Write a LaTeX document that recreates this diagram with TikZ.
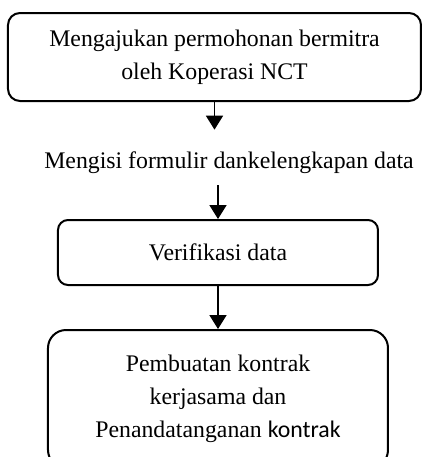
\documentclass[tikz,border=0pt]{standalone}
\usepackage{fontspec}
\setmainfont{Liberation Serif}
\newfontfamily\carlito{Carlito}
\usetikzlibrary{arrows.meta}

\begin{document}
\begin{tikzpicture}[
            x=0.5pt, y=-0.5pt,
            font=\fontsize{11.9}{16.4}\selectfont,
            kotak/.style={draw, line width=1pt, rounded corners=6pt, align=center},
            panah/.style={arrows=-{Triangle[width=8.5pt, length=7pt]}, line width=0.9pt}
        ]
        \useasboundingbox (0,0) rectangle (423,457);

        \node[kotak, minimum width=206.5pt, minimum height=44pt] (ajuan) at (214.5,57)
            {Mengajukan permohonan bermitra\\oleh Koperasi NCT};
        \node[inner xsep=0pt, inner ysep=5.5pt] (isi) at (229,163)
            {Mengisi formulir dankelengkapan data};
        \node[kotak, minimum width=160pt, minimum height=32.5pt, rounded corners=5pt] (verif) at (218,252.5)
            {Verifikasi data};
        \node[kotak, minimum width=170pt, minimum height=69pt, rounded corners=9pt] (kontrak) at (218,399)
            {Pembuatan kontrak\\kerjasama dan\\Penandatanganan {\carlito kontrak}};

        \draw[panah, shorten >=5.5pt] (ajuan.south) -- (ajuan.south |- isi.north);
        \draw[panah] (isi.south -| verif.north) -- (verif.north);
        \draw[panah] (verif.south) -- (kontrak.north);
    \end{tikzpicture}
\end{document}
